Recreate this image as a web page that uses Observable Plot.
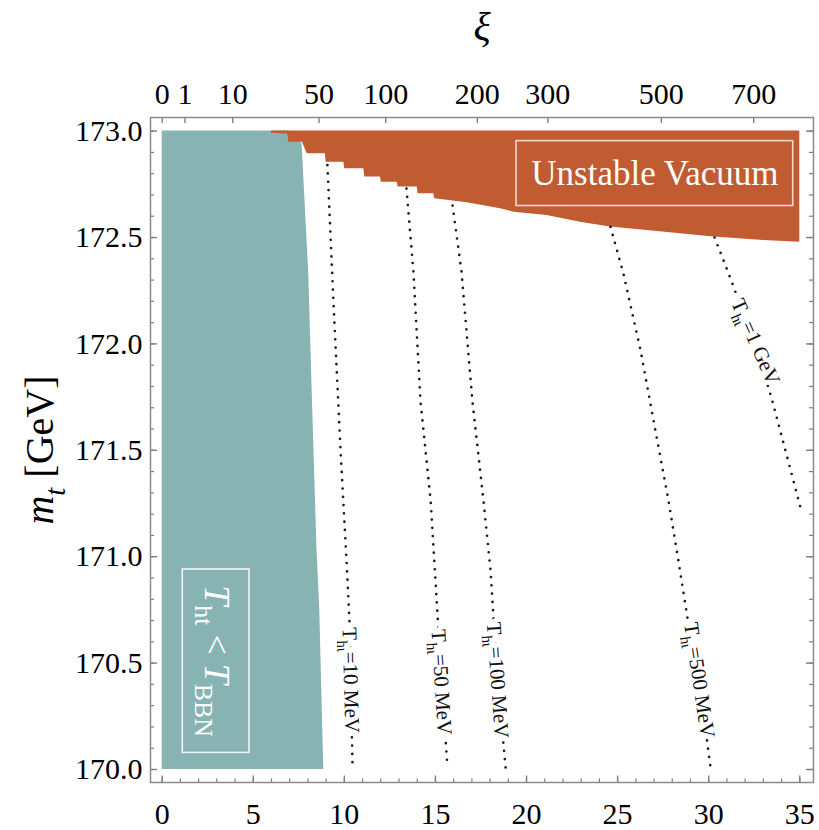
<!DOCTYPE html>
<html>
<head>
<meta charset="utf-8">
<script src="https://cdn.jsdelivr.net/npm/d3@7"></script>
<script src="https://cdn.jsdelivr.net/npm/@observablehq/plot@0.6"></script>
<style>
  html, body { margin: 0; padding: 0; background: #fff; }
  svg { display: block; }
  svg text { font-family: "Liberation Serif", "DejaVu Serif", serif; }
</style>
</head>
<body>
<div id="chart"></div>
<script>
// ---------------- data ----------------
// bottom axis
const xMajorTicks = [0, 5, 10, 15, 20, 25, 30, 35];
const xMinorTicks = d3.range(0, 36);
// left / right axis (m_t in GeV)
const yMajorTicks = [170.0, 170.5, 171.0, 171.5, 172.0, 172.5, 173.0];
const yMinorTicks = d3.range(1700, 1731).map(d => d / 10);
// top axis: ξ tick labels and where they sit on the bottom scale
const xiLabels    = ["0", "1", "10", "50", "100", "200", "300", "500", "700"];
const xiPositions = [0, 1.25, 3.87, 8.61, 12.27, 17.30, 21.17, 27.40, 32.47];

// T_ht < T_BBN region: right boundary
const bbnX  = [8.87, 8.65, 8.50, 8.25, 8.05, 7.68, 6.95];
const bbnMt = [170.0, 170.75, 171.03, 171.73, 172.32, 172.94, 173.0];

// Unstable vacuum region: lower boundary (staircase on the left, finer on the right)
const vacX  = [6.00, 6.90, 6.95, 7.70, 7.96, 8.96, 9.00, 9.97, 10.02, 11.07, 11.12, 11.98, 12.03, 12.90, 12.95, 14.00, 14.05, 14.91, 14.96, 16.74, 18.57, 19.30, 21.13, 22.96, 24.60, 26.62, 28.45, 30.28, 33.02, 35.00];
const vacMt = [172.99, 172.985, 172.948, 172.948, 172.894, 172.894, 172.854, 172.854, 172.823, 172.823, 172.784, 172.784, 172.760, 172.760, 172.737, 172.737, 172.706, 172.706, 172.682, 172.663, 172.635, 172.619, 172.604, 172.572, 172.549, 172.533, 172.518, 172.502, 172.486, 172.478];

// Dotted T_ht contours
const c10MeV_x  = [9.07, 9.40, 9.79, 10.12, 10.28, 10.45];
const c10MeV_mt = [172.84, 172.20, 171.50, 170.98, 170.70, 170.01];
const c50MeV_x  = [13.41, 13.79, 14.18, 14.74, 15.00, 15.33, 15.66];
const c50MeV_mt = [172.73, 172.34, 171.73, 171.26, 170.89, 170.42, 170.01];
const c100MeV_x  = [15.94, 16.43, 17.03, 17.64, 18.02, 18.41, 18.85];
const c100MeV_mt = [172.65, 172.34, 171.73, 171.26, 170.94, 170.42, 170.01];
const c500MeV_x  = [24.61, 25.32, 26.26, 27.08, 27.80, 28.34, 28.84, 29.55, 30.10];
const c500MeV_mt = [172.55, 172.33, 171.97, 171.59, 171.26, 170.98, 170.71, 170.37, 170.01];
const c1GeV_x  = [30.32, 30.87, 31.36, 32.02, 32.84, 33.50, 34.21, 35.04];
const c1GeV_mt = [172.50, 172.38, 172.27, 172.11, 171.92, 171.73, 171.50, 171.23];

// contour labels ({s:..} = subscript, {i:..} = italic)
const contourNames  = ["T{s:ht}=10 MeV", "T{s:ht}=50 MeV", "T{s:ht}=100 MeV", "T{s:ht}=500 MeV", "T{s:ht}=1 GeV"];
const contourLabelX  = [10.35, 15.33, 18.41, 29.48, 32.57];
const contourLabelMt = [170.42, 170.41, 170.42, 170.42, 172.01];
const contourLabelAngle = [88.5, 86.5, 86, 81.5, 66];

// region annotations
const vacuumLabel = "Unstable Vacuum";
const vacuumBox = {x1: 19.45, x2: 34.64, y1: 172.648, y2: 172.953};
const bbnLabel = "{i:T}{s:ht} < {i:T}{s:BBN}";
const bbnBox = {x1: 1.13, x2: 4.79, y1: 170.078, y2: 170.94};

// ---------------- build tables ----------------
const bbnData = bbnX.map((x, i) => ({x, mt: bbnMt[i]}));
const vacData = vacX.map((x, i) => ({x, mt: vacMt[i]}));
const contours = [
  [c10MeV_x, c10MeV_mt], [c50MeV_x, c50MeV_mt], [c100MeV_x, c100MeV_mt],
  [c500MeV_x, c500MeV_mt], [c1GeV_x, c1GeV_mt]
].flatMap(([xs, ms], k) => xs.map((x, i) => ({x, mt: ms[i], k})));
const labelData = contourNames.map((t, i) => ({t, x: contourLabelX[i], mt: contourLabelMt[i], a: contourLabelAngle[i]}));
const xiData = xiLabels.map((l, i) => ({l, x: xiPositions[i]}));

// ---------------- layout ----------------
const W = 819, H = 830, mL = 150, mR = 6, mT = 117, mB = 48;
const pw = W - mL - mR, ph = H - mT - mB;
const teal = "#87b3b3", rust = "#c15b32", tickC = "#7d7d7d";
const font = "Liberation Serif";

const chart = Plot.plot({
  width: W, height: H,
  marginLeft: mL, marginRight: mR, marginTop: mT, marginBottom: mB,
  x: {domain: [-0.642, 35.753], axis: null},
  y: {domain: [169.939, 173.064], axis: null},
  style: {fontFamily: font, background: "white", color: "black"},
  marks: [
    Plot.areaX(bbnData, {y: "mt", x1: 0, x2: "x", fill: teal}),
    Plot.areaY(vacData, {x: "x", y1: "mt", y2: 173.0, fill: rust}),
    Plot.line(contours, {x: "x", y: "mt", z: "k", stroke: "#1c1c1c", strokeWidth: 2.7,
      strokeDasharray: "0 8.3", strokeLinecap: "round"}),
    Plot.text(labelData, {x: "x", y: "mt", text: "t", rotate: "a", fontSize: 21, fontFamily: font,
      fill: "#111", stroke: "white", strokeWidth: 10, strokeLinejoin: "round"}),
    // annotation boxes
    Plot.rect([vacuumBox], {x1: "x1", x2: "x2", y1: "y1", y2: "y2", fill: "none", stroke: "#f4d6ca", strokeWidth: 1.6}),
    Plot.text([vacuumLabel], {x: () => (vacuumBox.x1 + vacuumBox.x2) / 2, y: () => (vacuumBox.y1 + vacuumBox.y2) / 2,
      text: d => d, fontSize: 35, fontFamily: font, fill: "white"}),
    Plot.rect([bbnBox], {x1: "x1", x2: "x2", y1: "y1", y2: "y2", fill: "none", stroke: "#eef6f6", strokeWidth: 1.6}),
    Plot.text([bbnLabel], {x: () => (bbnBox.x1 + bbnBox.x2) / 2, y: () => (bbnBox.y1 + bbnBox.y2) / 2,
      text: d => d, rotate: 90, fontSize: 36, fontFamily: font, fill: "white"}),
    // frame ticks (inward)
    Plot.ruleX(xMinorTicks, {x: d => d, insetTop: ph - 3.5, stroke: tickC, strokeWidth: 1.2}),
    Plot.ruleX(xMajorTicks, {x: d => d, insetTop: ph - 6.5, stroke: tickC, strokeWidth: 1.4}),
    Plot.ruleX(xiData, {x: "x", insetBottom: ph - 6, stroke: tickC, strokeWidth: 1.4}),
    Plot.ruleY(yMinorTicks, {y: d => d, insetRight: pw - 4, stroke: tickC, strokeWidth: 1.2}),
    Plot.ruleY(yMajorTicks, {y: d => d, insetRight: pw - 7, stroke: tickC, strokeWidth: 1.4}),
    Plot.ruleY(yMinorTicks, {y: d => d, insetLeft: pw - 4, stroke: tickC, strokeWidth: 1.2}),
    Plot.ruleY(yMajorTicks, {y: d => d, insetLeft: pw - 7, stroke: tickC, strokeWidth: 1.4}),
    Plot.frame({stroke: "#8a8a8a", strokeWidth: 1.5}),
    // tick labels
    Plot.text(xMajorTicks, {x: d => d, text: d => String(d), frameAnchor: "bottom", dy: 32,
      lineAnchor: "middle", fontSize: 30, fontFamily: font}),
    Plot.text(yMajorTicks, {y: d => d, text: d => d.toFixed(1), frameAnchor: "left", dx: -8,
      textAnchor: "end", lineAnchor: "middle", fontSize: 30, fontFamily: font}),
    Plot.text(xiData, {x: "x", text: "l", frameAnchor: "top", dy: -23, lineAnchor: "middle", fontSize: 30, fontFamily: font}),
    // axis titles
    Plot.text(["ξ"], {text: d => d, frameAnchor: "top", dy: -90, textAnchor: "middle", lineAnchor: "middle", fontSize: 40,
      fontStyle: "italic", fontFamily: font}),
    Plot.text(["{i:m}{si:t} [GeV]"], {text: d => d, frameAnchor: "left", dx: -110, rotate: -90,
      textAnchor: "middle", lineAnchor: "middle", fontSize: 40, fontFamily: font})
  ]
});

document.getElementById("chart").appendChild(chart);

// turn the little markup into real tspans (italic / subscript)
function richify(root) {
  root.querySelectorAll("text").forEach(t => {
    const s = t.textContent;
    if (!s.includes("{")) return;
    const fs = parseFloat(getComputedStyle(t).fontSize) || 20;
    const re = /\{(i|s|si):([^}]*)\}|([^{]+)/g;
    const parts = [];
    let m;
    while ((m = re.exec(s))) parts.push(m[3] !== undefined ? {kind: "n", txt: m[3]} : {kind: m[1], txt: m[2]});
    while (t.firstChild) t.removeChild(t.firstChild);
    let shift = 0;
    const ns = "http://www.w3.org/2000/svg";
    parts.forEach(p => {
      const sp = document.createElementNS(ns, "tspan");
      sp.textContent = p.txt;
      const sub = p.kind === "s" || p.kind === "si";
      const target = sub ? 0.28 * fs : 0;
      if (target !== shift) { sp.setAttribute("dy", (target - shift).toFixed(2)); shift = target; }
      if (sub) sp.setAttribute("font-size", (0.72 * fs).toFixed(1));
      if (p.kind === "i" || p.kind === "si") sp.setAttribute("font-style", "italic");
      t.appendChild(sp);
    });
  });
}
richify(chart);
</script>
</body>
</html>
